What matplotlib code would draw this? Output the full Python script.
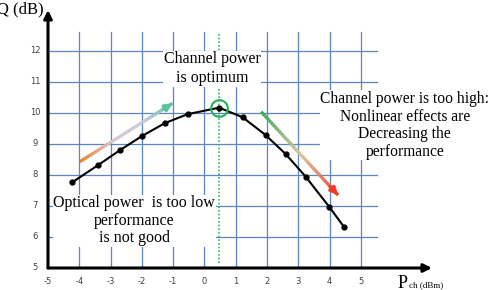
import numpy as np
import matplotlib.pyplot as plt
from matplotlib.collections import LineCollection
from matplotlib.colors import LinearSegmentedColormap

# data
p_ch = [-4.23, -3.41, -2.70, -1.99, -1.27, -0.54, 0.47, 1.22, 1.95, 2.59, 3.23, 3.98, 4.47]
q_db = [7.76, 8.31, 8.80, 9.26, 9.67, 9.96, 10.17, 9.86, 9.29, 8.68, 7.95, 6.98, 6.31]
x_ticks = [-5, -4, -3, -2, -1, 0, 1, 2, 3, 4, 5]
y_ticks = [5, 6, 7, 8, 9, 10, 11, 12]
p_opt = 0.47
q_opt = 10.17

serif = "Liberation Serif"
grid_c = "#5b85c0"


def gradient_arrow(ax, start, end, colors):
    t = np.linspace(0, 1, 40)
    xs = start[0] + (end[0] - start[0]) * t
    ys = start[1] + (end[1] - start[1]) * t
    pts = np.array([xs, ys]).T.reshape(-1, 1, 2)
    segs = np.concatenate([pts[:-1], pts[1:]], axis=1)
    cmap = LinearSegmentedColormap.from_list("g", colors)
    lc = LineCollection(segs, colors=cmap(t[:-1]), linewidths=2.4, capstyle="butt", zorder=9)
    ax.add_collection(lc)
    # head
    hx = start[0] + (end[0] - start[0]) * 0.9
    hy = start[1] + (end[1] - start[1]) * 0.9
    ax.annotate("", xy=end, xytext=(hx, hy),
                arrowprops=dict(arrowstyle="-|>", color=colors[-1], lw=2.4,
                                mutation_scale=10, shrinkA=0, shrinkB=0), zorder=9)


fig = plt.figure(figsize=(4.91, 2.90), dpi=100)
ax = fig.add_axes([48 / 491, 1 - 268 / 290, (432 - 48) / 491, (268 - 10) / 290])
ax.set_xlim(-5, 7.27)
ax.set_ylim(5, 13.32)
ax.axis("off")

# grid
for x in x_ticks[1:]:
    ax.plot([x, x], [5, 12.62], color=grid_c, lw=0.9, zorder=1)
for y in y_ticks[1:]:
    ax.plot([-5.1, 5.5], [y, y], color=grid_c, lw=0.9, zorder=1)

# axes with arrows
ax.annotate("", xy=(7.27, 5), xytext=(-5, 5),
            arrowprops=dict(arrowstyle="-|>", color="black", lw=2.2, mutation_scale=12,
                            shrinkA=0, shrinkB=0), zorder=5)
ax.annotate("", xy=(-5, 13.32), xytext=(-5, 5),
            arrowprops=dict(arrowstyle="-|>", color="black", lw=2.2, mutation_scale=12,
                            shrinkA=0, shrinkB=0), zorder=5)

for x in x_ticks:
    ax.text(x, 4.55, str(x), ha="center", va="center", fontsize=6, color="#404040")
for y in y_ticks:
    ax.text(-5.42, y, str(y), ha="center", va="center", fontsize=6, color="#404040")

# optimum line
ax.plot([p_opt, p_opt], [5.15, 12.62], color="#2bbf5a", lw=1.2, ls=(0, (1, 1.2)), zorder=2)

# curve
ax.plot(p_ch, q_db, color="black", lw=1.5, marker="o", ms=3.5, zorder=6)
ax.plot([p_opt], [q_opt], marker="o", ms=12, mfc="none", mec="#25b05a", mew=1.5, zorder=7)

gradient_arrow(ax, (-3.98, 8.43), (-1.02, 10.31), ["#e87d25", "#d8c6c8", "#c8c8de", "#5cc39a"])
gradient_arrow(ax, (1.81, 10.04), (4.27, 7.35), ["#3aa95a", "#d8c49a", "#f03a2a"])

ax.text(0.25, 11.42, "Channel power\nis optimum", ha="center", va="center",
        fontsize=11.5, family=serif, linespacing=1.25, zorder=8,
        bbox=dict(fc="white", ec="none", pad=0.5))
ax.text(6.4, 9.6, "Channel power is too high:\nNonlinear effects are\nDecreasing the\nperformance",
        ha="center", va="center", fontsize=11.2, family=serif, linespacing=1.14, zorder=8,
        bbox=dict(fc="white", ec="none", pad=0.5))
ax.text(-2.25, 6.52, "Optical power  is too low\nperformance\nis not good",
        ha="center", va="center", fontsize=11.5, family=serif, linespacing=1.12, zorder=8,
        bbox=dict(fc="white", ec="none", pad=0.5))

fig.text(-0.006, 1 - 9 / 290, "Q (dB)", ha="left", va="center", fontsize=12, family=serif)
fig.text(398 / 491, 1 - 283 / 290, "P", ha="left", va="center", fontsize=13, family=serif)
fig.text(409 / 491, 1 - 285 / 290, "ch (dBm)", ha="left", va="center", fontsize=6.5, family=serif)

fig.savefig("out.png", dpi=100)
